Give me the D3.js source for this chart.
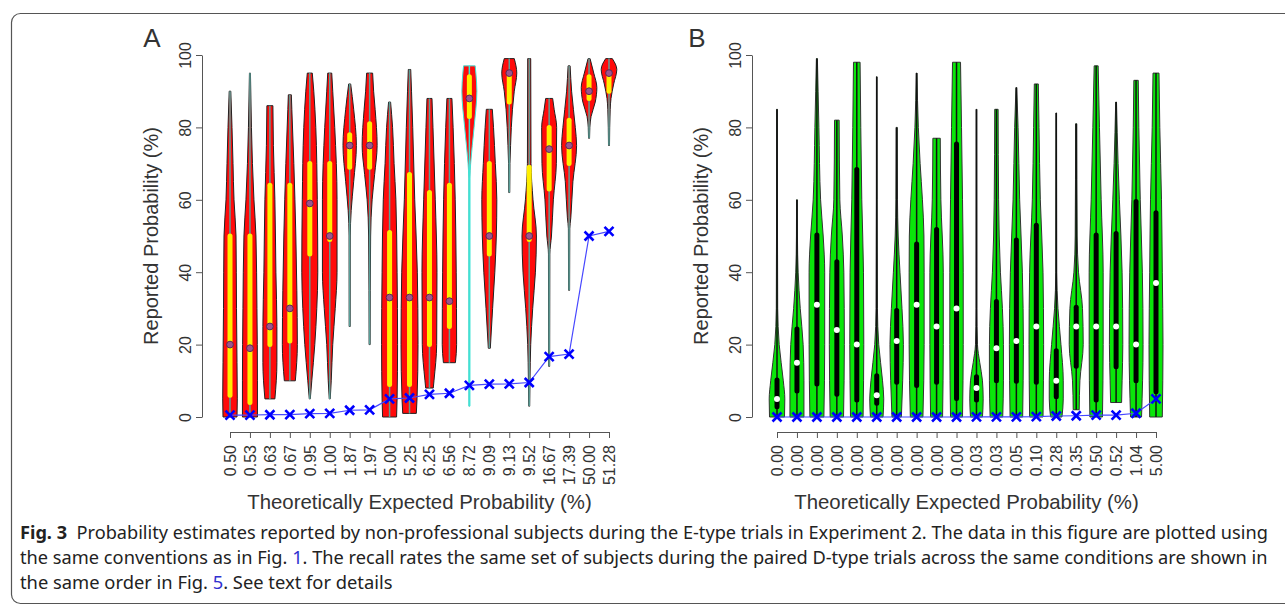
<!DOCTYPE html>
<html lang="en">
<head>
<meta charset="utf-8">
<title>Fig. 3 - violin plots</title>
<script src="https://cdn.jsdelivr.net/npm/d3@7"></script>
<style>
  body { margin: 0; background: #fff; }
  svg text { font-family: "Liberation Sans", Arial, sans-serif; fill: #333; }
</style>
</head>
<body>
<svg id="fig" width="1285" height="605"></svg>
<script>
// ---- data ----
var labelsA = ["0.50","0.53","0.63","0.67","0.95","1.00","1.87","1.97","5.00","5.25",
               "6.25","6.56","8.72","9.09","9.13","9.52","16.67","17.39","50.00","51.28"];
var expectedA = [0.50,0.53,0.63,0.67,0.95,1.00,1.87,1.97,5.00,5.25,
                 6.25,6.56,8.72,9.09,9.13,9.52,16.67,17.39,50.00,51.28];
// [value, density] pairs, from min to max
var profilesA = [
  [[0,7],[5,7.3],[15,7],[30,6.5],[50,6],[60,4],[70,3],[80,2],[90,0.8]],
  [[0,7.5],[10,7.5],[30,7],[50,6],[60,4],[70,2.5],[80,1.5],[95,0.5]],
  [[5,5],[15,7],[25,7],[40,6],[60,5],[75,3.5],[86,3]],
  [[10,5.5],[20,7.5],[35,7],[50,6],[70,4],[85,2],[89,1.5]],
  [[5,0.5],[10,2],[20,5],[30,7],[40,8],[60,7.5],[80,6],[90,4],[95,2.5]],
  [[5,0.5],[10,1.5],[20,3],[30,5.5],[40,7.3],[60,7.3],[80,5],[90,3],[95,2]],
  [[25,0.5],[50,0.6],[57,1.5],[65,4],[75,6.7],[85,4],[92,1]],
  [[20,0.5],[50,1],[60,2.5],[67,5],[75,7.5],[85,5.5],[90,4],[95,3]],
  [[0,7],[5,7.5],[20,8],[40,7.5],[60,6.3],[70,4.5],[80,3],[87,1]],
  [[1,6.8],[5,7.5],[20,8.5],[40,7.8],[60,5.2],[80,3.2],[90,2],[96,1.2]],
  [[8,3.8],[10,4.5],[20,7.2],[40,7.5],[60,5.8],[80,3.5],[88,2.5]],
  [[15,6],[20,7.2],[40,6.8],[60,5.8],[80,3.7],[88,2.5]],
  [[3,0.5],[66,0.6],[70,1.3],[80,4.7],[90,7.5],[95,6.5],[97,5.8]],
  [[19,1],[30,3.3],[40,5.5],[50,7],[60,7.5],[70,6],[80,4.2],[85,3]],
  [[62,0.5],[70,0.7],[75,1.3],[85,3.2],[90,5],[95,7.5],[99,5]],
  [[3,0.5],[10,0.8],[20,1.5],[30,3.5],[40,6.2],[50,7.2],[60,3.8],[70,1.8],[99,1.5]],
  [[14,0.5],[45,0.7],[50,2.3],[60,4.2],[70,7.2],[80,7.5],[85,5],[88,3.5]],
  [[35,0.5],[52,0.7],[55,1.7],[65,3.8],[75,7.5],[80,6.2],[90,2.5],[97,1]],
  [[77,0.5],[80,0.8],[83,2],[87,6.2],[91,7.8],[95,4.7],[99,1]],
  [[75,0.5],[85,1.2],[88,2],[92,4.7],[96,7.8],[99,3.3]]
];
// [q1, median, q3]
var quartilesA = [
  [6,20,50],[4,19,50],[20,25,64],[21,30,64],[45,59,70],[49,50,70],[69,75,78],[69,75,81],
  [9,33,51],[9,33,67],[20,33,62],[25,32,64],[83,88,94],[45,50,70],[87,95,95],[49,50,69],
  [63,74,80],[70,75,82],[88,90,94],[90,95,95]
];

var labelsB = ["0.00","0.00","0.00","0.00","0.00","0.00","0.00","0.00","0.00","0.00",
               "0.03","0.03","0.05","0.10","0.28","0.35","0.50","0.52","1.04","5.00"];
var expectedB = [0,0,0,0,0,0,0,0,0,0,0.03,0.03,0.05,0.10,0.28,0.35,0.50,0.52,1.04,5.00];
var profilesB = [
  [[0,7.5],[5,7.8],[10,6.3],[20,2.2],[30,0.7],[50,0.5],[85,0.4]],
  [[0,7],[10,7],[20,6.2],[30,3.3],[40,1.2],[50,0.5],[60,0.4]],
  [[0,7],[20,7.8],[40,7.8],[50,6.3],[60,3.7],[80,2],[90,1.2],[99,0.5]],
  [[0,6.7],[20,7.5],[40,7],[50,5.5],[60,3],[82,2.3]],
  [[0,6.3],[20,7],[40,6.7],[60,5],[80,4],[98,3.3]],
  [[0,6.3],[5,7],[10,5.8],[20,2],[30,0.7],[60,0.4],[94,0.3]],
  [[0,4.7],[10,6],[20,6.7],[30,5.3],[40,3.3],[50,1.5],[60,0.8],[80,0.6]],
  [[0,6.3],[20,7.5],[40,7.5],[50,7.3],[60,5.8],[70,3.5],[80,1.7],[95,0.4]],
  [[0,6],[20,6.7],[40,6.7],[60,4.3],[77,3.7]],
  [[0,6],[20,6.7],[40,6.7],[60,6],[80,5],[98,4]],
  [[0,6],[5,6.7],[10,6],[15,3.3],[20,1],[30,0.4],[85,0.3]],
  [[0,6.3],[10,7],[20,7],[30,6],[40,4],[60,2.2],[85,1.7]],
  [[0,6.3],[20,7],[40,6],[60,3.3],[80,1.7],[91,0.4]],
  [[0,6.7],[20,7.3],[40,6.7],[60,4],[80,2.7],[92,2]],
  [[0,5.7],[5,7],[10,7],[20,4.7],[30,1.7],[40,0.5],[84,0.3]],
  [[2,3],[10,3.7],[20,7],[30,6.3],[40,2.3],[50,1],[81,0.6]],
  [[0,6.3],[20,7],[40,7],[60,5],[80,3.3],[97,2]],
  [[4,5.5],[10,6],[20,6.7],[40,6],[60,3.3],[70,2],[87,0.4]],
  [[0,5.5],[20,7],[40,6.3],[60,4.2],[80,2.8],[93,2.2]],
  [[0,6.3],[20,7],[40,6.3],[60,5.5],[80,3.8],[95,3]]
];
var quartilesB = [
  [2.8,5,10.2],[7.2,15,24.3],[9.1,31,50.3],[6.3,24,42.9],[4.7,20,68.4],
  [3.8,6,11.4],[9.6,21,29.4],[8.7,31,47.8],[9.6,25,51.8],[5.1,30,75.4],
  [4.7,8,11.1],[10,19,31.9],[9.9,21,48.9],[9.6,25,53],[5.6,10,18.3],
  [14,25,30.3],[4.7,25,50.3],[13.9,25,50.7],[10,20,59.5],[7,37,56.4]
];
var yTicks = [0, 20, 40, 60, 80, 100];

var svg = d3.select("#fig");

// frame round the figure
svg.append("rect")
  .attr("x", 11.5).attr("y", 13.5)
  .attr("width", 1290).attr("height", 590)
  .attr("rx", 9)
  .attr("fill", "none").attr("stroke", "#555").attr("stroke-width", 1.2);

var panels = [
  {letter: "A", letterX: 152, labels: labelsA, expected: expectedA, profiles: profilesA, quart: quartilesA,
   axisX: 202, left: 230, right: 609, fill: "#ff0a0a", outline: "#222", box: "#ffee00",
   whisker: "#5a9f98", dot: "#9b5590", dotStroke: "#5a2a55", dotR: 3.4},
  {letter: "B", letterX: 697, labels: labelsB, expected: expectedB, profiles: profilesB, quart: quartilesB,
   axisX: 752, left: 777, right: 1156, fill: "#0ae60a", outline: "#333", box: "#000",
   whisker: "#111", dot: "#fff", dotStroke: "none", dotR: 3}
];

var y = d3.scaleLinear().domain([0, 100]).range([417, 55]);
var w = d3.scaleLinear().domain([0, 8]).range([0, 8]);

panels.forEach(function(p) {
  var g = svg.append("g");
  var x = d3.scalePoint().domain(d3.range(p.labels.length)).range([p.left, p.right]);

  // y axis (R style)
  var yAxis = g.append("g").attr("transform", "translate(" + p.axisX + ",0)")
    .call(d3.axisLeft(y).tickValues(yTicks).tickSize(6).tickSizeOuter(0));
  yAxis.select(".domain").attr("stroke", "#555");
  yAxis.selectAll(".tick line").attr("stroke", "#555");
  yAxis.selectAll(".tick text")
    .attr("font-size", 16).attr("fill", "#333")
    .attr("text-anchor", "middle").attr("dominant-baseline", "central")
    .attr("x", 0).attr("dy", 0)
    .attr("transform", "translate(-17,0) rotate(-90)");

  // x axis
  var xAxis = g.append("g").attr("transform", "translate(0,432)")
    .call(d3.axisBottom(x).tickFormat(function(i) { return p.labels[i]; }).tickSize(6).tickSizeOuter(0));
  xAxis.select(".domain").attr("stroke", "#555");
  xAxis.selectAll(".tick line").attr("stroke", "#555");
  xAxis.selectAll(".tick text")
    .attr("font-size", 16).attr("fill", "#333")
    .attr("text-anchor", "end").attr("dominant-baseline", "central")
    .attr("y", 0).attr("dy", 0)
    .attr("transform", "translate(0,13) rotate(-90)");

  // titles
  g.append("text").attr("x", p.letterX).attr("y", 47)
    .attr("text-anchor", "middle").attr("font-size", 26).attr("fill", "#222").text(p.letter);
  g.append("text")
    .attr("transform", "translate(" + (p.axisX - 51) + "," + y(50) + ") rotate(-90)")
    .attr("text-anchor", "middle").attr("dominant-baseline", "central")
    .attr("font-size", 20).text("Reported Probability (%)");
  g.append("text").attr("x", (p.left + p.right) / 2).attr("y", 509)
    .attr("text-anchor", "middle").attr("font-size", 20.4)
    .text("Theoretically Expected Probability (%)");

  // violins
  p.profiles.forEach(function(prof, i) {
    var cx = x(i);
    var cyan = p.letter === "A" && i === 12;
    var area = d3.area()
      .y(function(d) { return y(d[0]); })
      .x0(function(d) { return cx - w(d[1]); })
      .x1(function(d) { return cx + w(d[1]); })
      .curve(d3.curveMonotoneY);
    g.append("path").attr("d", area(prof))
      .attr("fill", p.fill)
      .attr("stroke", cyan ? "#3fe3d6" : p.outline)
      .attr("stroke-width", 1);
    g.append("line")
      .attr("x1", cx).attr("x2", cx)
      .attr("y1", y(prof[0][0])).attr("y2", y(prof[prof.length - 1][0]))
      .attr("stroke", cyan ? "#3fe3d6" : p.whisker)
      .attr("stroke-width", 1.5);
    var q = p.quart[i];
    g.append("line")
      .attr("x1", cx).attr("x2", cx)
      .attr("y1", y(q[0])).attr("y2", y(q[2]))
      .attr("stroke", p.box).attr("stroke-width", 5).attr("stroke-linecap", "round");
    g.append("circle").attr("cx", cx).attr("cy", y(q[1])).attr("r", p.dotR)
      .attr("fill", p.dot).attr("stroke", p.dotStroke).attr("stroke-width", 1);
  });

  // theoretical expectation
  var line = d3.line().x(function(d, i) { return x(i); }).y(function(d) { return y(d); });
  g.append("path").attr("d", line(p.expected))
    .attr("fill", "none").attr("stroke", "#4747ff").attr("stroke-width", 1.2);
  g.selectAll(".cross").data(p.expected).enter().append("path")
    .attr("class", "cross")
    .attr("d", function(d, i) {
      var cx = x(i), cy = y(d), s = 4.5;
      return "M" + (cx - s) + "," + (cy - s) + "L" + (cx + s) + "," + (cy + s) +
             "M" + (cx - s) + "," + (cy + s) + "L" + (cx + s) + "," + (cy - s);
    })
    .attr("stroke", "#0000ff").attr("stroke-width", 2.6).attr("fill", "none");
});

// caption
var caption = [
  {y: 539, width: 1248, parts: [
    {t: "Fig. 3", bold: true},
    {t: "\u00a0\u00a0Probability estimates reported by non-professional subjects during the E-type trials in Experiment 2. The data in this figure are plotted using"}]},
  {y: 564, width: 1248, parts: [
    {t: "the same conventions as in Fig. "}, {t: "1", link: true},
    {t: ". The recall rates the same set of subjects during the paired D-type trials across the same conditions are shown in"}]},
  {y: 589, width: 373, parts: [
    {t: "the same order in Fig. "}, {t: "5", link: true}, {t: ". See text for details"}]}
];
caption.forEach(function(c) {
  var t = svg.append("text").attr("x", 0).attr("y", 0)
    .attr("font-size", 18).style("font-family", "'Noto Sans', sans-serif");
  c.parts.forEach(function(pt) {
    t.append("tspan").text(pt.t)
      .attr("font-weight", pt.bold ? "bold" : null)
      .style("fill", pt.link ? "#3030d0" : "#222");
  });
  var len = t.node().getComputedTextLength();
  t.attr("transform", "translate(20," + c.y + ") scale(" + (c.width / len) + ",1)");
});
</script>
</body>
</html>
